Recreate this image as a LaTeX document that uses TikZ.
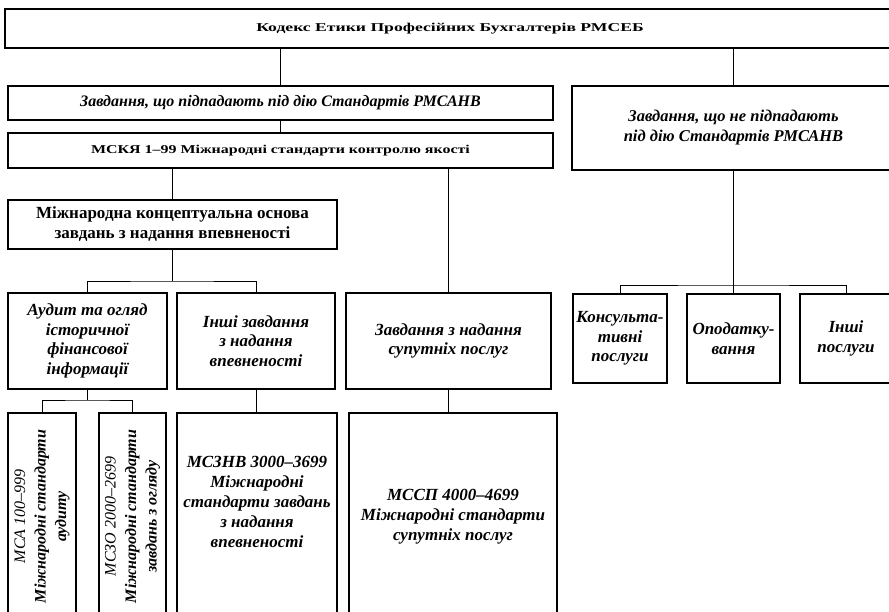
\documentclass[tikz,border=0pt]{standalone}
\usepackage{fontspec}
\setmainfont{Liberation Serif}

\begin{document}
\begin{tikzpicture}[x=1pt,y=-1pt,
    box/.style={draw=black, rectangle, line width=1.1pt, inner sep=2pt, align=center, font=\fontsize{17}{19.5}\selectfont\bfseries\itshape},
    upbox/.style={box, font=\fontsize{17}{20}\selectfont\bfseries},
    stdbox/.style={box, rotate=90, font=\fontsize{16}{20.5}\selectfont\bfseries\itshape},
    link/.style={line width=1pt}]
        \useasboundingbox (0,0) rectangle (889,611);

        % Define the top rectangle with the code title
        \node[box, line width=2.4pt, minimum width=890pt, minimum height=39pt, font=\fontsize{12}{14}\selectfont\bfseries] (kodeks) at (450,28.5) {\scalebox{1.47}[1]{Кодекс Етики Професійних Бухгалтерів РМСЕБ}};

        % Second level
        \node[box, minimum width=545pt, minimum height=34pt, font=\fontsize{16}{19}\selectfont\bfseries\itshape] (pidpad) at (280.5,103) {Завдання, що підпадають під дію Стандартів РМСАНВ};
        \node[box, minimum width=545pt, minimum height=35pt, font=\fontsize{12}{14}\selectfont\bfseries] (mskya) at (280.5,150.5) {\scalebox{1.33}[1]{МСКЯ 1--99 Міжнародні стандарти контролю якості}};
        \node[box, minimum width=323pt, minimum height=84pt, font=\fontsize{16.5}{20}\selectfont\bfseries\itshape] (nepidpad) at (733.5,128) {Завдання, що не підпадають\\під дію Стандартів РМСАНВ};
        \node[upbox, minimum width=329pt, minimum height=49pt] (osnova) at (172.5,224.5) {Міжнародна концептуальна основа\\завдань з надання впевненості};

        % Third level
        \node[box, minimum width=159pt, minimum height=96pt] (audyt) at (87.5,341) {Аудит та огляд\\історичної\\фінансової\\інформації};
        \node[box, minimum width=158pt, minimum height=96pt] (inshi) at (256,341) {Інші завдання\\з надання\\впевненості};
        \node[box, minimum width=205pt, minimum height=96pt] (suput) at (448.5,341) {Завдання з надання\\супутніх послуг};
        \node[box, minimum width=94pt, minimum height=89pt] (konsult) at (620,338.5) {Консульта-\\тивні\\послуги};
        \node[box, minimum width=93pt, minimum height=89pt] (opodat) at (733.5,338.5) {Оподатку-\\вання};
        \node[box, minimum width=92pt, minimum height=89pt] (inshiposl) at (846,338.5) {Інші\\послуги};

        % Standards at the bottom
        \node[stdbox, minimum width=207pt, minimum height=68pt] (msa) at (42,516.5) {{\mdseries МСА 100--999}\\Міжнародні стандарти\\аудиту};
        \node[stdbox, minimum width=207pt, minimum height=67pt] (mszo) at (132.5,516.5) {{\mdseries МСЗО 2000--2699}\\Міжнародні стандарти\\завдань з огляду};
        \node[box, minimum width=160pt, minimum height=207pt, font=\fontsize{17}{20}\selectfont\bfseries\itshape] (msznv) at (257,516.5) {МСЗНВ 3000--3699\\Міжнародні\\стандарти завдань\\з надання\\впевненості\\[10pt]};
        \node[box, minimum width=208pt, minimum height=207pt, font=\fontsize{17}{20}\selectfont\bfseries\itshape] (mssp) at (453,516.5) {МССП 4000--4699\\Міжнародні стандарти\\супутніх послуг};

        % Branch points
        \coordinate (split1) at (172.5,281);
        \coordinate (split2) at (733.5,285);
        \coordinate (split3) at (87.5,400);

        % Connectors
        \draw[link] (pidpad.north) -- (pidpad.north |- kodeks.south);
        \draw[link] (nepidpad.north) -- (nepidpad.north |- kodeks.south);
        \draw[link] (pidpad.south) -- (mskya.north);
        \draw[link] (osnova.north) -- (osnova.north |- mskya.south);
        \draw[link] (suput.north) -- (suput.north |- mskya.south);
        \draw[link] (osnova.south) -- (split1);
        \draw[link] (audyt.north) |- (split1) -| (inshi.north);
        \draw[link] (nepidpad.south) -- (split2);
        \draw[link] (konsult.north) |- (split2) -| (inshiposl.north);
        \draw[link] (opodat.north) -- (opodat.north |- split2);
        \draw[link] (audyt.south) -- (split3);
        \draw[link] (msa.east) |- (split3) -| (mszo.east);
        \draw[link] (inshi.south) -- (inshi.south |- msznv.north);
        \draw[link] (suput.south) -- (suput.south |- mssp.north);
    \end{tikzpicture}
\end{document}
